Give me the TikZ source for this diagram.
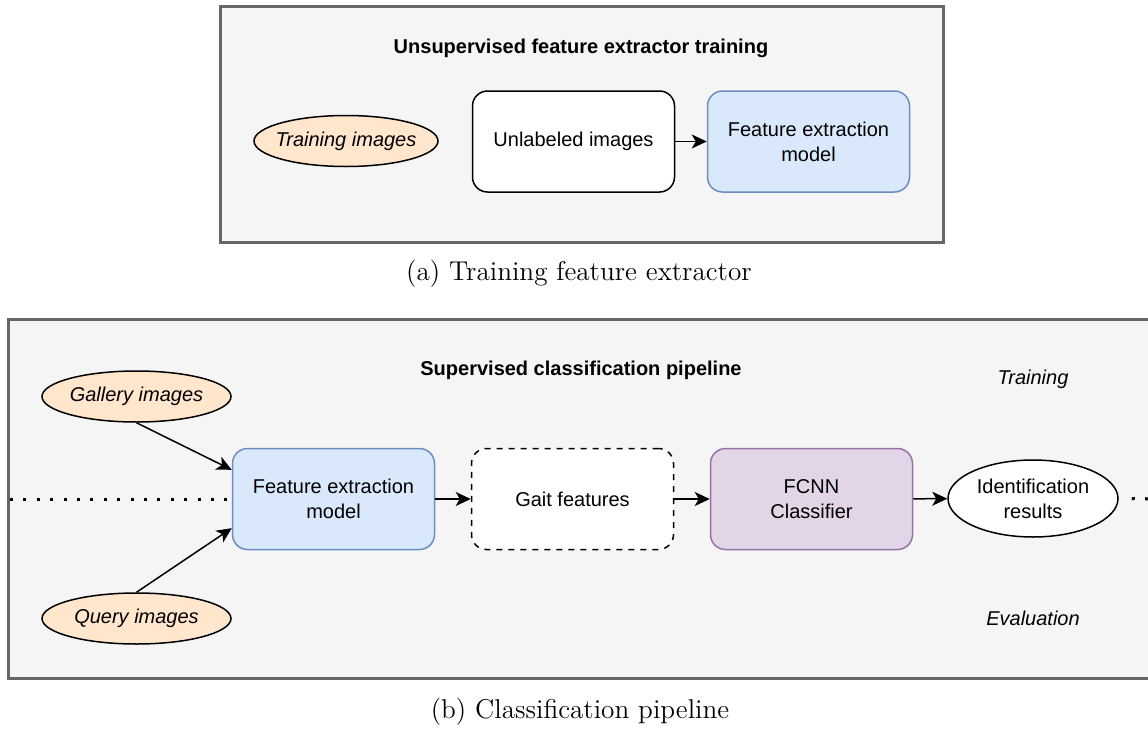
\documentclass[tikz,border=0pt]{standalone}
\usepackage{fontspec}
\newfontfamily\drawfont{Liberation Sans}
\usetikzlibrary{shapes.geometric,arrows.meta}
\definecolor{panelfill}{HTML}{F5F5F5}
\definecolor{paneldraw}{HTML}{666666}
\definecolor{orangefill}{HTML}{FFE6CC}
\definecolor{bluefill}{HTML}{DAE8FC}
\definecolor{bluedraw}{HTML}{6C8EBF}
\definecolor{purplefill}{HTML}{E1D5E7}
\definecolor{purpledraw}{HTML}{9673A6}
\newcommand{\capfont}{\fontsize{13.6}{16}\selectfont}

\tikzset{
	panel/.style={fill=panelfill, draw=paneldraw, line width=1.5pt},
	box/.style={draw, rounded corners=7.5pt, line width=0.75pt, minimum width=101pt,
		minimum height=50.5pt, inner sep=0pt, align=center, font=\drawfont},
	source/.style={ellipse, draw, fill=orangefill, line width=0.75pt, inner xsep=-3pt, inner ysep=0pt,
		minimum width=94.5pt, minimum height=25.5pt, font=\drawfont\itshape},
	conn/.style={-{Stealth[length=7.5pt,width=7pt,inset=2pt]}, line width=0.75pt},
	sep/.style={line width=1.5pt, dash pattern=on 1.5pt off 5.2pt}
}

\begin{document}
	\begin{tikzpicture}[x=0.5pt, y=-0.5pt]
		\useasboundingbox (0,0) rectangle (1148,729);

		% (a) feature extractor training
		\draw [panel] (220,6) rectangle (943,242);
		\node [font=\drawfont\bfseries] (titleA) at (581,48) {Unsupervised feature extractor training};
		\node [source, minimum width=92pt] (train) at (346,141) {Training images};
		\node [box, fill=white] (unlab) at (573.5,141.5) {Unlabeled images};
		\node [box, fill=bluefill, draw=bluedraw] (featA) at (808.5,141.5) {Feature extraction\\[0.5pt]model};
		\draw [conn] (unlab) -- (featA);
		\node [font=\capfont] (capA) at (579,274) {(a) Training feature extractor};

		% (b) classification pipeline
		\draw [panel] (8,319) rectangle (1170,678);
		\node [font=\drawfont\bfseries] (titleB) at (581,370) {Supervised classification pipeline};
		\node [font=\drawfont\itshape] (trainlbl) at (1033,379) {Training};
		\node [font=\drawfont\itshape] (evallbl) at (1033,618) {Evaluation};
		\node [source] (gallery) at (136.5,396.5) {Gallery images};
		\node [source] (query) at (136.5,618.5) {Query images};
		\node [box, fill=bluefill, draw=bluedraw] (featB) at (333.5,499) {Feature extraction\\[0.5pt]model};
		\node [box, fill=white, dashed] (gait) at (572.5,499) {Gait features};
		\node [box, fill=purplefill, draw=purpledraw] (fcnn) at (811.5,499) {FCNN\\[0.5pt]Classifier};
		\node [ellipse, draw, fill=white, line width=0.75pt, inner sep=0pt, minimum width=85pt,
			minimum height=38.5pt, align=center, font=\drawfont] (ident) at (1033,498.5) {Identification\\[0.5pt]results};
		\coordinate (sepL) at (10,499);
		\coordinate (sepR) at (1160,499);
		\draw [sep] (sepL) -- (featB.west);
		\draw [sep] (ident.east) ++(13,0) -- (sepR);
		\draw [conn] (gallery.south) -- (featB.164);
		\draw [conn] (query.north) -- (featB.196);
		\draw [conn] (featB) -- (gait);
		\draw [conn] (gait) -- (fcnn);
		\draw [conn] (fcnn) -- (ident);
		\node [font=\capfont] (capB) at (580,712) {(b) Classification pipeline};

	\end{tikzpicture}
\end{document}
